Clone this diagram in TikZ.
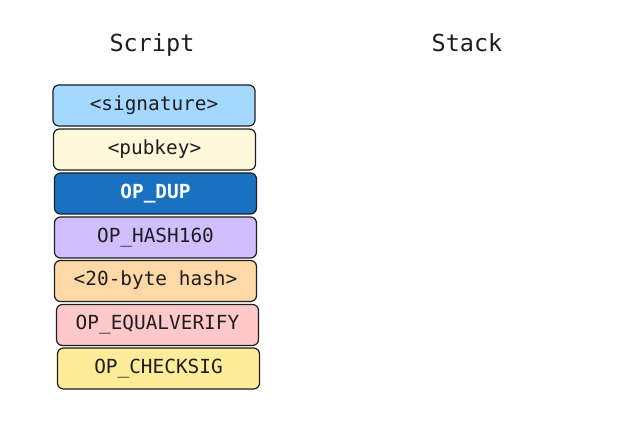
\documentclass[tikz,border=0pt]{standalone}
\usepackage{fontspec}
\setmonofont{DejaVu Sans Mono}
\usetikzlibrary{positioning}

\begin{document}
\begin{tikzpicture}[x=1pt, y=-1pt,
    opbox/.style={draw={rgb,255:red,30;green,30;blue,30}, line width=1.2pt, rounded corners=6pt,
        minimum width=202pt, minimum height=41pt, inner sep=0pt,
        text={rgb,255:red,30;green,30;blue,30},
        text height=13pt, text depth=3pt,
        font=\ttfamily\fontsize{19.4}{22}\selectfont},
    title/.style={font=\ttfamily\fontsize{23.5}{26}\selectfont,
        text={rgb,255:red,30;green,30;blue,30}, text height=16pt, text depth=4pt}]

    % page
    \useasboundingbox[fill=white] (0,0) rectangle (618,435);

    % headings
    \node[title] (script) at (152,46) {Script};
    \node[title] (stack) at (467,46) {Stack};

    % script items
    \node[opbox, fill={rgb,255:red,165;green,216;blue,255}] (sig) at (154,105.5) {<signature>};
    \node[opbox, fill={rgb,255:red,255;green,249;blue,219}] (pub) at (154.5,149.5) {<pubkey>};
    \node[opbox, fill={rgb,255:red,25;green,113;blue,194}, text=white] (dup) at (155.5,193.5) {\bfseries OP\_DUP};
    \node[opbox, fill={rgb,255:red,208;green,191;blue,255}] (hash) at (155.5,237.5) {OP\_HASH160};
    \node[opbox, fill={rgb,255:red,255;green,216;blue,168}] (pkh) at (155.5,281) {<20-byte hash>};
    \node[opbox, fill={rgb,255:red,255;green,201;blue,201}] (eqv) at (157.5,325) {OP\_EQUALVERIFY};
    \node[opbox, fill={rgb,255:red,255;green,236;blue,153}] (chk) at (158.5,368.5) {OP\_CHECKSIG};

\end{tikzpicture}
\end{document}
